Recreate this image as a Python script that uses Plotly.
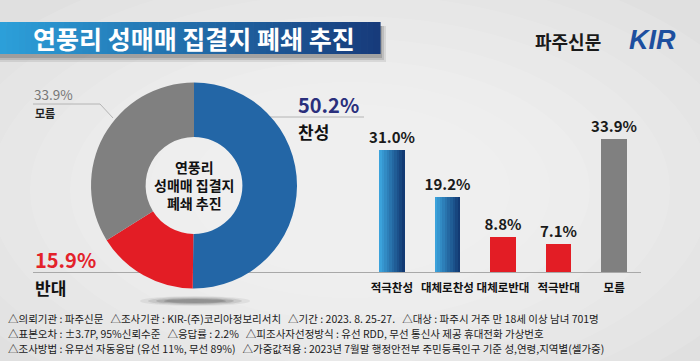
import plotly.graph_objects as go

W, H = 700, 361

# ---------------- data ----------------
title_text = "연풍리 성매매 집결지 폐쇄 추진"
publisher = "파주신문"
logo_text = "KIR"
center_lines = ["연풍리", "성매매 집결지", "폐쇄 추진"]

pie_labels = ["찬성", "반대", "모름"]
pie_values = [50.2, 15.9, 33.9]

bar_categories = ["적극찬성", "대체로찬성", "대체로반대", "적극반대", "모름"]
bar_values = [31.0, 19.2, 8.8, 7.1, 33.9]
bar_groups = ["찬성", "찬성", "반대", "반대", "모름"]

footer_lines = [
    "△의뢰기관 : 파주신문   △조사기관 : KIR-(주)코리아정보리서치   △기간 : 2023. 8. 25-27.   △대상 : 파주시 거주 만 18세 이상 남녀 701명",
    "△표본오차 : ±3.7P, 95%신뢰수준   △응답률 : 2.2%   △피조사자선정방식 : 유선 RDD, 무선 통신사 제공 휴대전화 가상번호",
    "△조사방법 : 유무선 자동응답 (유선 11%, 무선 89%)   △가중값적용 : 2023년 7월말 행정안전부 주민등록인구 기준 성,연령,지역별(셀가중)",
]

# ---------------- styles ----------------
FONT = "Noto Sans CJK KR"
BLUE_L, BLUE_D = (0x3B, 0xA2, 0xDB), (0x12, 0x3A, 0x74)
BLUE_MID = "#2366a6"
RED = "#e31d25"
GRAY = "#808080"
group_color = {"찬성": BLUE_MID, "반대": RED, "모름": GRAY}


def px(x):
    return x / W


def py(y):
    return 1 - y / H


def lerp(c1, c2, t):
    return "rgb(%d,%d,%d)" % tuple(round(a + (b - a) * t) for a, b in zip(c1, c2))


shapes = []
annotations = []

# background soft radial highlight
for i in range(8):
    rx = 440 - i * 40
    ry = 240 - i * 22
    shapes.append(dict(type="circle", xref="paper", yref="paper",
                       x0=px(350 - rx), x1=px(350 + rx), y0=py(190 + ry), y1=py(190 - ry),
                       fillcolor="rgba(255,255,255,0.10)", line_width=0, layer="below"))

# title banner shadow
for i, op in enumerate([0.10, 0.14, 0.18]):
    d = 6 - i * 2
    shapes.append(dict(type="rect", xref="paper", yref="paper",
                       x0=px(0), x1=px(380 + d), y0=py(56 + d), y1=py(26),
                       fillcolor="rgba(40,40,40,%.2f)" % op, line_width=0, layer="below"))
# title banner gradient
N = 60
bx0, bx1 = 0, 380
for i in range(N):
    t = i / (N - 1)
    shapes.append(dict(type="rect", xref="paper", yref="paper",
                       x0=px(bx0 + (bx1 - bx0) * i / N), x1=px(bx0 + (bx1 - bx0) * (i + 1) / N + 0.6),
                       y0=py(54), y1=py(22),
                       fillcolor=lerp((0x2C, 0x9F, 0xD9), (0x17, 0x3B, 0x7B), t), line_width=0, layer="below"))

annotations.append(dict(text="<b>%s</b>" % title_text, xref="paper", yref="paper",
                        x=px(194), y=py(38.5), xanchor="center", yanchor="middle", showarrow=False,
                        font=dict(family=FONT, size=25, color="white")))
annotations.append(dict(text="<b>%s</b>" % publisher, xref="paper", yref="paper",
                        x=px(568), y=py(41), xanchor="center", yanchor="middle", showarrow=False,
                        font=dict(family=FONT, size=18, color="#1a1a1a")))
annotations.append(dict(text="<b><i>%s</i></b>" % logo_text, xref="paper", yref="paper",
                        x=px(652), y=py(40), xanchor="center", yanchor="middle", showarrow=False,
                        font=dict(family="Liberation Sans", size=27, color="#1d4f9f")))

# donut shadow
for i, op in enumerate([0.08, 0.12, 0.18, 0.25]):
    shapes.append(dict(type="circle", xref="paper", yref="paper",
                       x0=px(140 + i * 8), x1=px(250 - i * 8), y0=py(306 - i), y1=py(296 + i),
                       fillcolor="rgba(60,60,60,%.2f)" % op, line_width=0, layer="below"))

# leader lines
LINE_C = "#b4b4b4"
shapes.append(dict(type="line", xref="paper", yref="paper", x0=px(248), x1=px(364), y0=py(117), y1=py(117),
                   line=dict(color=LINE_C, width=1), layer="below"))
shapes.append(dict(type="line", xref="paper", yref="paper", x0=px(33), x1=px(641), y0=py(272.5), y1=py(272.5),
                   line=dict(color="#a8a8a8", width=1), layer="below"))
shapes.append(dict(type="path", xref="paper", yref="paper",
                   path="M %f %f L %f %f L %f %f" % (px(33), py(104), px(100), py(104), px(113), py(118)),
                   line=dict(color=LINE_C, width=1), layer="below"))

fig = go.Figure()

# donut
fig.add_trace(go.Pie(
    labels=pie_labels, values=pie_values, hole=0.47, sort=False, direction="clockwise", rotation=0,
    marker=dict(colors=[group_color[g] for g in pie_labels], line=dict(width=0)),
    textinfo="none", hoverinfo="label+percent", showlegend=False,
    domain=dict(x=[px(91), px(297)], y=[py(289), py(82)]),
))

annotations.append(dict(text="<b>" + "<br>".join(center_lines) + "</b>", xref="paper", yref="paper",
                        x=px(194), y=py(185), xanchor="center", yanchor="middle", showarrow=False,
                        font=dict(family=FONT, size=14, color="#111")))

# pie labels
annotations.append(dict(text="<b>%.1f%%</b>" % pie_values[0], xref="paper", yref="paper",
                        x=px(296), y=py(104), xanchor="left", yanchor="middle", showarrow=False,
                        font=dict(family=FONT, size=20, color="#2a2f7c")))
annotations.append(dict(text="<b>%s</b>" % pie_labels[0], xref="paper", yref="paper",
                        x=px(296), y=py(131), xanchor="left", yanchor="middle", showarrow=False,
                        font=dict(family=FONT, size=17, color="#111")))
annotations.append(dict(text="<b>%.1f%%</b>" % pie_values[1], xref="paper", yref="paper",
                        x=px(33), y=py(259), xanchor="left", yanchor="middle", showarrow=False,
                        font=dict(family=FONT, size=20, color="#e3222a")))
annotations.append(dict(text="<b>%s</b>" % pie_labels[1], xref="paper", yref="paper",
                        x=px(33), y=py(287), xanchor="left", yanchor="middle", showarrow=False,
                        font=dict(family=FONT, size=17, color="#111")))
annotations.append(dict(text="%.1f%%" % pie_values[2], xref="paper", yref="paper",
                        x=px(32), y=py(94), xanchor="left", yanchor="middle", showarrow=False,
                        font=dict(family=FONT, size=13.5, color="#777")))
annotations.append(dict(text="<b>%s</b>" % pie_labels[2], xref="paper", yref="paper",
                        x=px(33), y=py(113), xanchor="left", yanchor="middle", showarrow=False,
                        font=dict(family=FONT, size=11, color="#222")))

# bars
BW = 0.46
fig.add_trace(go.Bar(
    x=bar_categories, y=bar_values, width=BW,
    marker=dict(color=[group_color[g] for g in bar_groups], line=dict(width=0)),
    text=["<b>%.1f%%</b>" % v for v in bar_values], textposition="outside",
    textfont=dict(family=FONT, size=15, color="#1a1a1a"), cliponaxis=False, constraintext="none",
    showlegend=False, xaxis="x", yaxis="y",
))
blue_cats = [c for c, g in zip(bar_categories, bar_groups) if g == "찬성"]
blue_vals = [v for v, g in zip(bar_values, bar_groups) if g == "찬성"]
NS = 10
sw = BW / NS
for k in range(NS):
    col = lerp(BLUE_L, BLUE_D, k / (NS - 1))
    fig.add_trace(go.Bar(
        x=blue_cats, y=blue_vals, width=sw * 1.05, offset=-BW / 2 + k * sw,
        marker=dict(color=col, line=dict(width=0)), hoverinfo="skip",
        showlegend=False, xaxis="x", yaxis="y",
    ))

# footer
for i, line in enumerate(footer_lines):
    annotations.append(dict(text=line, xref="paper", yref="paper",
                            x=px(6), y=py(318 + i * 15), xanchor="left", yanchor="middle", showarrow=False,
                            font=dict(family=FONT, size=10.5, color="#1a1a1a")))

fig.update_layout(
    width=W, height=H, margin=dict(l=0, r=0, t=0, b=0),
    paper_bgcolor="#e0e0e0", plot_bgcolor="rgba(0,0,0,0)",
    barmode="overlay", bargap=0,
    shapes=shapes, annotations=annotations, showlegend=False,
    xaxis=dict(domain=[px(364), px(642)], showline=False, showgrid=False, zeroline=False,
               ticks="outside", ticklen=5, tickcolor="rgba(0,0,0,0)",
               tickfont=dict(family=FONT, size=11.5, color="#111", weight="bold"),
               categoryorder="array", categoryarray=bar_categories, fixedrange=True),
    yaxis=dict(domain=[py(272), py(115.2)], range=[0, 40], visible=False, fixedrange=True),
    font=dict(family=FONT),
)

fig.write_html("out.html", config={"displayModeBar": False},
               post_script="document.body.style.margin='0';document.body.style.overflow='hidden';")
